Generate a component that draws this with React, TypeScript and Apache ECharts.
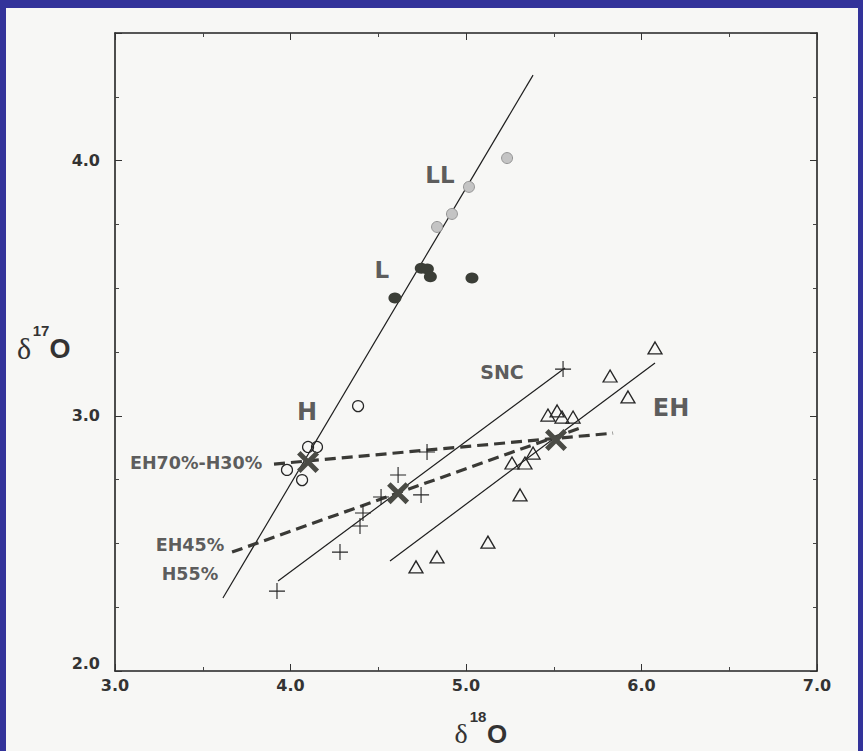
import React, { useEffect, useRef } from "react";
import * as echarts from "echarts";

// ---- data (delta18O, delta17O) ----
const llX = [4.835, 4.92, 5.017, 5.234];
const llY = [3.74, 3.791, 3.897, 4.01];
const lX = [4.595, 4.745, 4.78, 4.797, 5.034];
const lY = [3.462, 3.578, 3.575, 3.545, 3.54];
const hX = [4.385, 4.1, 4.151, 3.98, 4.066];
const hY = [3.038, 2.878, 2.878, 2.788, 2.748];
const sncX = [5.553, 4.778, 4.613, 4.744, 4.516, 4.413, 4.396, 4.282, 3.923];
const sncY = [3.183, 2.858, 2.768, 2.69, 2.682, 2.619, 2.568, 2.466, 2.313];
const ehX = [6.077, 5.821, 5.923, 5.467, 5.519, 5.547, 5.61, 5.262, 5.336, 5.382, 5.308, 5.125, 4.835, 4.715];
const ehY = [3.266, 3.156, 3.074, 3.003, 3.019, 2.995, 2.995, 2.815, 2.815, 2.854, 2.69, 2.505, 2.447, 2.408];
const mixX = [4.1, 4.613, 5.513];
const mixY = [2.819, 2.697, 2.905];

// line end points
const ordLineX = [3.615, 5.382];
const ordLineY = [2.286, 4.335];
const sncLineX = [3.929, 5.564];
const sncLineY = [2.353, 3.187];
const ehLineX = [4.567, 6.077];
const ehLineY = [2.431, 3.207];
const mix70X = [3.906, 5.838];
const mix70Y = [2.811, 2.932];
const mix45X = [3.667, 5.65];
const mix45Y = [2.466, 2.952];

// annotations
const labelNames = ["LL", "L", "H", "SNC", "EH", "EH70%-H30%", "EH45%\nH55%"];
const labelX = [4.852, 4.521, 4.094, 5.205, 6.168, 3.462, 3.427];
const labelY = [3.944, 3.571, 3.015, 3.172, 3.031, 2.815, 2.435];

// axes
const xMin = 3, xMax = 7, xStep = 1;
const yMin = 2, yMax = 4.5, yStep = 1;

const zip = (xs: number[], ys: number[]) => xs.map((x, i) => [x, ys[i]]);

const PAPER = "#f7f7f5";
const INK = "#262626";
const plusPath = "path://M9.3,0 H10.7 V9.3 H20 V10.7 H10.7 V20 H9.3 V10.7 H0 V9.3 H9.3 Z";
const xPath = "path://M3.2,0 L10,6.8 L16.8,0 L20,3.2 L13.2,10 L20,16.8 L16.8,20 L10,13.2 L3.2,20 L0,16.8 L6.8,10 L0,3.2 Z";

const labelSizes: Record<string, number> = {
  LL: 23, L: 23, H: 24, SNC: 19, EH: 24, "EH70%-H30%": 17.5, "EH45%\nH55%": 17.5,
};

export default function App() {
  const ref = useRef<HTMLDivElement>(null);
  useEffect(() => {
    if (!ref.current) return;
    const chart = echarts.init(ref.current, undefined, { renderer: "svg" });
    const axisLine = { show: true, onZero: false, lineStyle: { color: "#222", width: 1.6 } };
    const tick = { show: true, inside: true, length: 7, lineStyle: { color: "#333", width: 1 } };
    const tickLabel = {
      color: "#333",
      fontFamily: "DejaVu Sans",
      fontWeight: "bold" as const,
      fontSize: 16,
      formatter: (v: number) => v.toFixed(1),
    };
    const lineSeries = (xs: number[], ys: number[], dashed: boolean) => ({
      type: "line",
      data: zip(xs, ys),
      showSymbol: false,
      symbol: "none",
      silent: true,
      z: dashed ? 3 : 2,
      lineStyle: dashed
        ? { color: "#3a3a36", width: 3.2, type: [11, 6] }
        : { color: "#1e1e1e", width: 1.2 },
    });
    chart.setOption({
      animation: false,
      backgroundColor: PAPER,
      grid: { left: 115, right: 46, top: 33, bottom: 80, containLabel: false },
      xAxis: [
        {
          type: "value", min: xMin, max: xMax, interval: xStep, position: "bottom",
          axisLine, axisTick: tick,
          minorTick: { show: true, splitNumber: 2, length: 4, lineStyle: { color: "#444" } },
          splitLine: { show: false },
          axisLabel: { ...tickLabel, margin: 6 },
        },
        {
          type: "value", min: xMin, max: xMax, interval: xStep, position: "top",
          axisLine, axisTick: tick,
          minorTick: { show: true, splitNumber: 2, length: 4, lineStyle: { color: "#444" } },
          splitLine: { show: false }, axisLabel: { show: false },
        },
      ],
      yAxis: [
        {
          type: "value", min: yMin, max: yMax, interval: yStep, position: "left",
          axisLine, axisTick: tick,
          minorTick: { show: true, splitNumber: 4, length: 4, lineStyle: { color: "#444" } },
          splitLine: { show: false },
          axisLabel: { ...tickLabel, margin: 15, showMaxLabel: false, verticalAlignMinLabel: "bottom" },
        },
        {
          type: "value", min: yMin, max: yMax, interval: yStep, position: "right",
          axisLine, axisTick: tick,
          minorTick: { show: true, splitNumber: 4, length: 4, lineStyle: { color: "#444" } },
          splitLine: { show: false }, axisLabel: { show: false },
        },
      ],
      graphic: [
        { type: "rect", left: 0, top: 0, shape: { width: 6, height: 751 }, style: { fill: "#33339a" } },
        { type: "rect", left: 0, top: 0, shape: { width: 863, height: 8 }, style: { fill: "#33339a" } },
        { type: "rect", right: 0, top: 0, shape: { width: 5, height: 751 }, style: { fill: "#33339a" } },
        // y-axis title
        { type: "text", x: 24, y: 348, style: { text: "δ", font: "30px 'Liberation Serif'", fill: "#333", align: "center", verticalAlign: "middle" } },
        { type: "text", x: 41, y: 330, style: { text: "17", font: "bold 15px 'Liberation Sans'", fill: "#333", align: "center", verticalAlign: "middle" } },
        { type: "text", x: 60, y: 349, style: { text: "O", font: "bold 27px 'Liberation Sans'", fill: "#333", align: "center", verticalAlign: "middle" } },
        // x-axis title
        { type: "text", x: 461, y: 733, style: { text: "δ", font: "28px 'Liberation Serif'", fill: "#333", align: "center", verticalAlign: "middle" } },
        { type: "text", x: 478, y: 716, style: { text: "18", font: "bold 15px 'Liberation Sans'", fill: "#333", align: "center", verticalAlign: "middle" } },
        { type: "text", x: 497, y: 734, style: { text: "O", font: "bold 26px 'Liberation Sans'", fill: "#333", align: "center", verticalAlign: "middle" } },
      ],
      series: [
        lineSeries(ordLineX, ordLineY, false),
        lineSeries(sncLineX, sncLineY, false),
        lineSeries(ehLineX, ehLineY, false),
        lineSeries(mix70X, mix70Y, true),
        lineSeries(mix45X, mix45Y, true),
        {
          type: "scatter", data: zip(llX, llY), symbol: "circle", symbolSize: 11, z: 4,
          itemStyle: { color: "#c4c4c4", borderColor: "#959595", borderWidth: 1, opacity: 1 },
        },
        {
          type: "scatter", data: zip(lX, lY), symbol: "circle", symbolSize: [13, 11], z: 4,
          itemStyle: { color: "#3b3e37", opacity: 1 },
        },
        {
          type: "scatter", data: zip(hX, hY), symbol: "circle", symbolSize: 11, z: 4,
          itemStyle: { color: "transparent", borderColor: INK, borderWidth: 1.2, opacity: 1 },
        },
        {
          type: "scatter", data: zip(ehX, ehY), symbol: "triangle", symbolSize: [14, 12], z: 4,
          itemStyle: { color: "transparent", borderColor: INK, borderWidth: 1.3, opacity: 1 },
        },
        {
          type: "scatter", data: zip(sncX, sncY), symbol: plusPath, symbolSize: 16, z: 4,
          itemStyle: { color: INK, opacity: 1 },
        },
        {
          type: "scatter", data: zip(mixX, mixY), symbol: xPath, symbolSize: 22, z: 5,
          itemStyle: { color: "#4a4b45", opacity: 1 },
        },
        {
          type: "scatter", silent: true, z: 6, symbolSize: 1,
          itemStyle: { color: "transparent" },
          data: labelNames.map((n, i) => ({
            name: n,
            value: [labelX[i], labelY[i]],
            label: { fontSize: labelSizes[n] },
          })),
          label: {
            show: true, position: "inside", formatter: "{b}", color: "#333",
            fontFamily: "DejaVu Sans", fontWeight: "bold", lineHeight: 29, align: "center",
          },
        },
      ],
    });
    return () => chart.dispose();
  }, []);
  return (
    <div
      ref={ref}
      style={{ position: "fixed", left: 0, top: 0, width: 863, height: 751 }}
    />
  );
}
